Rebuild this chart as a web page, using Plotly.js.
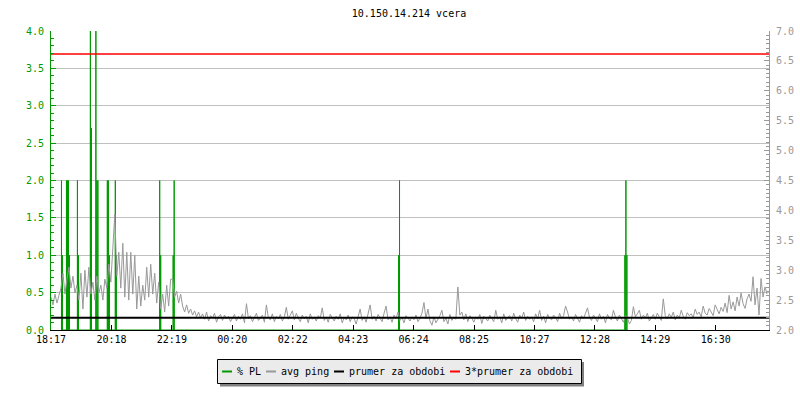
<!DOCTYPE html>
<html>
<head>
<meta charset="utf-8">
<script src="https://cdn.plot.ly/plotly-3.0.1.min.js"></script>
<style>html,body{margin:0;padding:0;background:#fff;}#chart{width:800px;height:400px;}</style>
</head>
<body>
<div id="chart"></div>
<script>
// ---- data ----
const titleText = "10.150.14.214 vcera";
const xTickLabels = ["18:17","20:18","22:19","00:20","02:22","04:23","06:24","08:25","10:27","12:28","14:29","16:30"];
const xTickStepMin = 121.2;   // minutes between labelled ticks
const xRangeMin = 1440;       // 24 h window, minutes from 18:17
const pingStepMin = 4;        // sample spacing of avg ping (minutes)

// avg ping (right axis), one value per sample
const avgPing = [
 2.55,2.42,2.6,2.45,2.58,
 2.7,2.95,2.6,2.85,3.05,2.7,2.9,2.62,
 2.75,2.5,2.95,2.35,3.0,2.55,3.05,
 2.6,2.8,2.5,2.9,2.62,2.75,2.5,2.85,
 2.7,3.1,2.8,
 3.5,3.94,2.9,3.3,
 2.7,3.45,2.55,3.3,
 2.5,3.3,2.6,3.25,
 2.35,2.9,2.4,2.75,2.5,
 3.05,2.55,3.1,2.6,2.95,2.45,2.8,
 2.35,2.6,2.3,2.75,2.4,2.85,
 2.85,2.55,2.65,2.45,2.6,
 2.4,2.3,2.42,2.28,2.35,
 2.25,2.32,2.22,2.3,2.2,
 2.27,2.18,2.3,2.15,2.24,2.2,2.28,2.13,2.22,2.26,2.16,2.25,2.19,2.23,2.14,
 2.2,2.26,2.15,2.23,2.18,2.27,2.12,2.44,2.19,2.24,2.14,2.22,2.28,2.16,2.21,
 2.25,2.13,2.42,2.2,2.17,2.27,2.14,2.23,2.19,2.26,2.15,2.22,2.38,2.18,2.24,
 2.32,2.17,2.28,2.2,2.14,2.25,2.19,2.23,2.12,2.27,
 2.18,2.22,2.15,2.24,2.2,2.37,2.16,2.22,2.13,2.26,
 2.2,2.15,2.23,2.18,2.27,2.12,2.21,2.17,2.25,2.14,
 2.22,2.19,2.1,2.24,2.35,2.16,2.22,2.13,2.27,2.42,
 2.18,2.23,2.15,2.26,2.2,2.14,2.28,2.4,2.17,2.22,
 2.13,2.25,2.19,2.3,2.16,2.21,2.12,2.24,2.2,2.15,
 2.22,2.17,2.25,2.14,2.2,2.28,2.46,2.19,2.35,2.15,
 2.08,2.22,2.12,2.18,2.24,2.33,2.14,2.2,2.1,2.26,
 2.16,2.21,2.18,2.72,2.25,2.3,2.17,2.27,2.14,2.24,
 2.2,2.13,2.22,2.18,2.26,2.11,2.23,2.19,2.15,2.25,
 2.2,2.14,2.33,2.18,2.22,2.12,2.27,2.16,2.21,2.24,
 2.15,2.28,2.19,2.13,2.25,2.2,2.3,2.16,2.23,2.18,
 2.22,2.14,2.27,2.19,2.33,2.16,2.23,2.12,2.26,2.2,
 2.17,2.25,2.21,2.14,2.28,2.19,2.24,2.4,2.3,2.18,
 2.22,2.15,2.26,2.2,2.13,2.24,2.19,2.28,2.37,2.21,
 2.16,2.25,2.2,2.14,2.27,2.18,2.23,2.12,2.26,2.2,
 2.17,2.33,2.22,2.15,2.25,2.19,2.13,2.24,2.21,2.1,
 2.16,2.39,2.22,2.27,2.33,2.18,2.25,2.2,2.28,2.15,
 2.2,2.26,2.18,2.28,2.22,2.16,2.52,2.24,2.19,2.27,
 2.21,2.3,2.17,2.25,2.2,2.33,2.23,2.18,2.29,2.24,
 2.27,2.21,2.35,2.26,2.3,2.22,2.4,2.28,2.25,2.36,
 2.3,2.24,2.42,2.33,2.27,2.38,2.31,2.45,2.29,2.58,
 2.35,2.47,2.32,2.55,2.4,2.62,2.44,2.36,2.52,2.6,
 2.48,2.89,2.42,2.7,2.25,2.86,2.55,2.72,2.6
];

// % PL samples (left axis): minute offsets and values
const plMinutes = [21,23, 31,33,35,37, 53,55, 79,81, 90,92,94, 113,115,117, 129,131, 218,220, 245,247, 697,699, 1151,1153,1155];
const plValues  = [2,1,   2,2,2,1,     2,1,   4,2.7, 4,2,2,    2,2,1,       2,1,     2,1,     1,2,     1,2,     1,2,1];

const prumer = 2.205;          // mean for the period (right axis)
const legendLabels = ["% PL","avg ping","prumer za obdobi","3*prumer za obdobi"];

// ---- colours / styles ----
const GREEN = "#009900", GRAY = "#999999", BLACK = "#000000", RED = "#ff0000";
const FONT = "DejaVu Sans Mono, Liberation Mono, monospace";

// ---- build traces ----
const pingX = avgPing.map((_, i) => i * pingStepMin);
const plX = [], plY = [];
plMinutes.forEach((m, i) => { plX.push(m, m, m); plY.push(0, plValues[i], 0); });

const traces = [
  {x: pingX, y: avgPing, type: "scatter", mode: "lines", line: {color: GRAY, width: 1}, yaxis: "y2", hoverinfo: "skip"},
  {x: plX, y: plY, type: "scatter", mode: "lines", line: {color: GREEN, width: 1}, yaxis: "y", hoverinfo: "skip"},
  {x: [0, xRangeMin], y: [prumer, prumer], type: "scatter", mode: "lines", line: {color: BLACK, width: 2}, yaxis: "y2", hoverinfo: "skip"},
  {x: [0, xRangeMin], y: [3 * prumer, 3 * prumer], type: "scatter", mode: "lines", line: {color: RED, width: 1.5}, yaxis: "y2", hoverinfo: "skip"}
];

// ---- custom legend (pixel -> paper) ----
const PL = 51, PR = 769, PT = 31, PB = 330;
const X = px => (px - PL) / (PR - PL);
const Y = py => (PB - py) / (PB - PT);
const legY = 371.5;
const legItems = [
  {color: GREEN, x0: 222, x1: 232, tx: 235.5},
  {color: GRAY,  x0: 266, x1: 276, tx: 279.5},
  {color: BLACK, x0: 334, x1: 344, tx: 347.5},
  {color: RED,   x0: 450, x1: 460, tx: 463.5}
];
const shapes = [
  {type: "rect", xref: "paper", yref: "paper", x0: X(220), x1: X(584), y0: Y(362), y1: Y(386.5), fillcolor: "#808080", line: {width: 0}},
  {type: "rect", xref: "paper", yref: "paper", x0: X(217.5), x1: X(581.5), y0: Y(359.5), y1: Y(383.5), fillcolor: "#ebebeb", line: {color: "#000", width: 1}}
];
const annotations = [];
legItems.forEach((it, i) => {
  shapes.push({type: "line", xref: "paper", yref: "paper", x0: X(it.x0), x1: X(it.x1), y0: Y(legY), y1: Y(legY), line: {color: it.color, width: 2}});
  annotations.push({xref: "paper", yref: "paper", x: X(it.tx), y: Y(legY), xanchor: "left", yanchor: "middle", text: legendLabels[i], showarrow: false, font: {family: FONT, size: 10, color: "#000"}, borderpad: 0});
});

const tickVals = xTickLabels.map((_, i) => i * xTickStepMin);

const layout = {
  width: 800, height: 400,
  margin: {l: PL, r: 800 - PR, t: PT, b: 400 - PB, pad: 0},
  paper_bgcolor: "#fff", plot_bgcolor: "#fff",
  showlegend: false,
  font: {family: FONT, size: 10, color: "#000"},
  title: {text: titleText, x: 409 / 800, xanchor: "center", y: 1 - 13.5 / 400, yanchor: "middle", font: {family: FONT, size: 10, color: "#000"}},
  xaxis: {range: [0, xRangeMin], tickmode: "array", tickvals: tickVals, ticktext: xTickLabels, ticks: "inside", ticklen: 5, tickcolor: "#000",
          showline: true, linecolor: "#000", linewidth: 1, showgrid: false, zeroline: false, tickfont: {family: FONT, size: 10, color: "#000"}},
  yaxis: {range: [0, 4], tick0: 0, dtick: 0.5, tickformat: ".1f", ticks: "inside", ticklen: 5, tickcolor: GREEN,
          showline: true, linecolor: GREEN, gridcolor: "#c0c0c0", gridwidth: 1, zeroline: false, ticklabelstandoff: 4,
          tickfont: {family: FONT, size: 10, color: GREEN},
          minor: {tick0: 0, dtick: 0.1, ticks: "inside", ticklen: 3, tickcolor: GREEN, showgrid: false}},
  yaxis2: {overlaying: "y", side: "right", range: [2, 7], tick0: 2, dtick: 0.5, tickformat: ".1f", ticks: "inside", ticklen: 5, tickcolor: GRAY,
           showline: true, linecolor: GRAY, showgrid: false, zeroline: false, ticklabelstandoff: 4,
           tickfont: {family: FONT, size: 10, color: GRAY},
           minor: {tick0: 2, dtick: 0.5 / 7, ticks: "inside", ticklen: 3, tickcolor: GRAY, showgrid: false}},
  shapes: shapes,
  annotations: annotations
};

Plotly.newPlot("chart", traces, layout, {staticPlot: true, displayModeBar: false});
</script>
</body>
</html>
